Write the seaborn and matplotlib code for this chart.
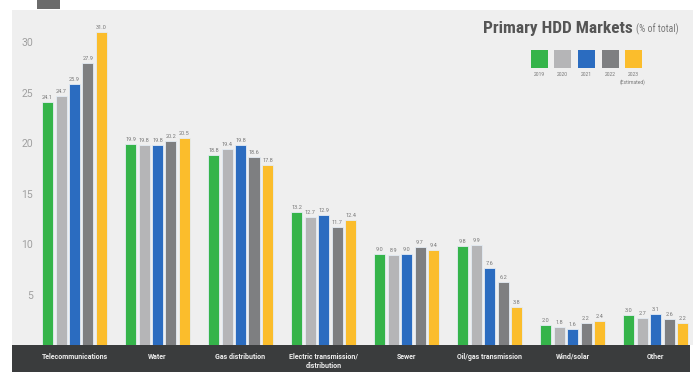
import numpy as np
import pandas as pd
import seaborn as sns
import matplotlib
matplotlib.use("Agg")
import matplotlib.pyplot as plt
from matplotlib.patches import Rectangle

categories = ["Telecommunications", "Water", "Gas distribution",
              "Electric transmission/\ndistribution", "Sewer",
              "Oil/gas transmission", "Wind/solar", "Other"]
years = ["2019", "2020", "2021", "2022", "2023\n(Estimated)"]
v2019 = [24.1, 19.9, 18.8, 13.2, 9.0, 9.8, 2.0, 3.0]
v2020 = [24.7, 19.8, 19.4, 12.7, 8.9, 9.9, 1.8, 2.7]
v2021 = [25.9, 19.8, 19.8, 12.9, 9.0, 7.6, 1.6, 3.1]
v2022 = [27.9, 20.2, 18.6, 11.7, 9.7, 6.2, 2.2, 2.6]
v2023 = [31.0, 20.5, 17.8, 12.4, 9.4, 3.8, 2.4, 2.2]
colors = ["#35b44a", "#b5b5b7", "#2b6cc0", "#7e7f81", "#fbbd2c"]

series = [v2019, v2020, v2021, v2022, v2023]
df = pd.DataFrame({
    "Market": np.repeat([categories], len(years), axis=0).ravel(),
    "Year": np.repeat(years, len(categories)),
    "Share": np.concatenate(series),
})

sns.set_theme(style="white")
plt.rcParams["font.family"] = ["Roboto", "DejaVu Sans"]

W, H = 699, 372
fig = plt.figure(figsize=(W / 100, H / 100), dpi=100)
fig.patch.set_facecolor("white")
ax_l, ax_r, ax_t, ax_b = 12, 693, 10, 345
ax = fig.add_axes([ax_l / W, 1 - ax_b / H, (ax_r - ax_l) / W, (ax_b - ax_t) / H])
ax.set_facecolor("#efefef")

sns.barplot(data=df, x="Market", y="Share", hue="Year", palette=colors,
            width=0.81, gap=0.18, ax=ax, legend=False, saturation=1,
            edgecolor="#e4ecf4", linewidth=0.6)

for cont in ax.containers:
    ax.bar_label(cont, fmt="%.1f", fontsize=4, color="#777777", padding=1.5)

ax.set_xlim(-0.753, 7.45)
ax.set_ylim(0, 33.2)
ax.set_yticks([5, 10, 15, 20, 25, 30])
ax.tick_params(axis="y", length=0, pad=-15, labelsize=7.5, labelcolor="#a0a0a0")
ax.set_xticks(range(len(categories)))
ax.set_xticklabels(categories, fontsize=5, color="#eeeeee", fontweight="bold",
                   linespacing=1.15)
ax.tick_params(axis="x", length=0, pad=5.5)
ax.set_xlabel("")
ax.set_ylabel("")
for s in ax.spines.values():
    s.set_visible(False)

# dark footer band
fig.add_artist(Rectangle((ax_l / W, 0), (690 - ax_l) / W, (H - ax_b) / H,
                         transform=fig.transFigure, facecolor="#3a3c3d",
                         edgecolor="none", zorder=0))
# small decorative block top-left
fig.add_artist(Rectangle((37 / W, 1 - 9 / H), 23 / W, 9 / H,
                         transform=fig.transFigure, facecolor="#6b6b6b",
                         edgecolor="none", zorder=5))

# title
fig.text(483 / W, 1 - 28 / H, "Primary HDD Markets", fontsize=12.5,
         fontweight="bold", color="#555555", va="center", ha="left",
         family=["Roboto Condensed", "Roboto", "DejaVu Sans"])
fig.text(636 / W, 1 - 29 / H, "(% of total)", fontsize=7,
         color="#777777", va="center", ha="left",
         family=["Roboto Condensed", "Roboto", "DejaVu Sans"])

# legend
centers = [539.5, 562.5, 586, 610, 633]
for c, col, lab in zip(centers, colors, years):
    fig.add_artist(Rectangle(((c - 8.5) / W, 1 - 68 / H), 17 / W, 18 / H,
                             transform=fig.transFigure, facecolor=col,
                             edgecolor="none"))
    fig.text(c / W, 1 - 72 / H, lab, fontsize=3.6, color="#777777",
             ha="center", va="top", linespacing=1.6)

fig.savefig("out.png", dpi=100, facecolor="white")
